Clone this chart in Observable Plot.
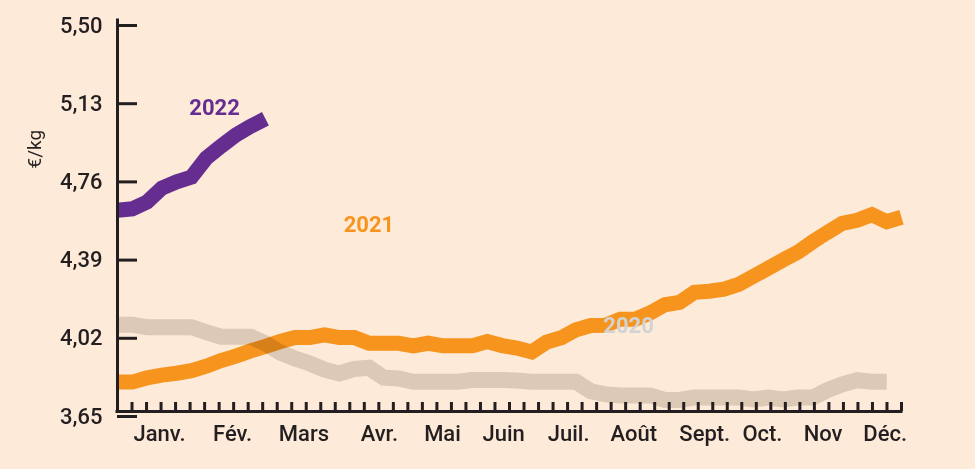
<!DOCTYPE html>
<html><head><meta charset="utf-8">
<script src="https://cdn.jsdelivr.net/npm/d3@7"></script>
<script src="https://cdn.jsdelivr.net/npm/@observablehq/plot@0.6"></script>
<style>
html,body{margin:0;padding:0;background:#fdead8;}
#chart svg{display:block;}
</style></head><body><div id="chart"></div>
<script>
// Month labels and where they sit along the weekly axis (week index units)
const months = ["Janv.","Fév.","Mars","Avr.","Mai","Juin","Juil.","Août","Sept.","Oct.","Nov","Déc."];
const monthPos = [2.84, 7.78, 12.6, 17.7, 21.97, 26.1, 30.5, 34.9, 39.7, 43.6, 47.7, 51.9];
// Y tick values (€/kg)
const yTicks = [3.65, 4.02, 4.39, 4.76, 5.13, 5.50];
// number of small weekly tick marks along the x axis
const weekTickCount = 54;

// Weekly prices, €/kg
const prices2020 = [4.061, 4.061, 4.049, 4.049, 4.049, 4.049, 4.025, 4.004, 4.004, 4.004,
  3.972, 3.929, 3.901, 3.877, 3.848, 3.830, 3.851, 3.857, 3.810, 3.806,
  3.791, 3.791, 3.791, 3.791, 3.799, 3.799, 3.799, 3.797, 3.791, 3.791,
  3.791, 3.791, 3.746, 3.731, 3.726, 3.726, 3.726, 3.705, 3.705, 3.716,
  3.716, 3.716, 3.716, 3.707, 3.716, 3.707, 3.716, 3.716, 3.751, 3.779,
  3.798, 3.791, 3.791];
const prices2021 = [3.789, 3.789, 3.809, 3.822, 3.831, 3.843, 3.864, 3.891, 3.912, 3.937,
  3.958, 3.981, 4.000, 4.000, 4.013, 4.000, 4.000, 3.973, 3.973, 3.973,
  3.961, 3.973, 3.961, 3.961, 3.961, 3.981, 3.962, 3.950, 3.932, 3.978,
  3.999, 4.037, 4.057, 4.058, 4.087, 4.087, 4.116, 4.155, 4.166, 4.214,
  4.219, 4.229, 4.252, 4.290, 4.328, 4.367, 4.404, 4.453, 4.498, 4.540,
  4.555, 4.581, 4.548, 4.569];
const prices2022 = [4.602, 4.609, 4.641, 4.707, 4.737, 4.759, 4.849, 4.905, 4.958, 4.999, 5.035];

const years = ["2020", "2021", "2022"];

// --- build tables ---
const toRows = (arr) => arr.map((v, i) => ({week: i, price: v}));
const d2020 = toRows(prices2020), d2021 = toRows(prices2021), d2022 = toRows(prices2022);
const lastWeek = prices2021.length - 1;
const weekTicks = d3.range(1, weekTickCount + 1).map(k => k * lastWeek / weekTickCount);

const INK = "#231f20", ORANGE = "#f7941d", PURPLE = "#662d91", GREY = "#dedcd8", GREY_TXT = "#d1d3d4";
const lineOpts = {x: "week", y: "price", strokeWidth: 15, strokeLinejoin: "miter", strokeMiterlimit: 10, strokeLinecap: "butt"};

const chart = Plot.plot({
  width: 975, height: 469,
  marginTop: 20, marginBottom: 58, marginLeft: 117, marginRight: 74,
  style: {background: "#fdead8", fontFamily: "Roboto, 'DejaVu Sans', sans-serif", color: INK},
  x: {domain: [0, lastWeek], axis: null},
  y: {domain: [yTicks[0], yTicks[yTicks.length - 1]], axis: null},
  marks: [
    Plot.line(d2021, {...lineOpts, stroke: ORANGE}),
    Plot.line(d2022, {...lineOpts, stroke: PURPLE}),
    Plot.line(d2020, {...lineOpts, stroke: GREY, strokeWidth: 16, mixBlendMode: "multiply"}),
    Plot.text([years[2]], {x: 6.56, y: 5.088, text: d => d, fill: PURPLE, fontSize: 22, fontWeight: "bold"}),
    Plot.text([years[1]], {x: 17.0, y: 4.535, text: d => d, fill: ORANGE, fontSize: 22, fontWeight: "bold"}),
    Plot.text([years[0]], {x: 34.55, y: 4.057, text: d => d, fill: GREY_TXT, fontSize: 22, fontWeight: "bold"}),
    // axis lines
    Plot.ruleX([0], {y1: yTicks[0], y2: yTicks[yTicks.length - 1], stroke: INK, strokeWidth: 3, strokeLinecap: "square"}),
    Plot.ruleY([yTicks[0]], {x1: 0, x2: lastWeek, stroke: INK, strokeWidth: 3, strokeLinecap: "square"}),
    // y ticks (inward) + labels
    Plot.axisY({ticks: yTicks, tickSize: -20, tickPadding: 35, tickFormat: d => d.toFixed(2).replace(".", ","),
      label: null, stroke: INK, strokeWidth: 3, fill: INK, fontSize: 22, fontWeight: 500, dy: 5}),
    // weekly tick marks on x
    Plot.axisX({ticks: weekTicks, tickSize: -9, label: null, fill: "none", stroke: INK, strokeWidth: 3}),
    // month labels
    Plot.axisX({ticks: monthPos, tickSize: 0, tickPadding: 14, label: null,
      tickFormat: d => months[monthPos.indexOf(d)], fill: INK, fontSize: 22, fontWeight: 500}),
    // y title
    Plot.text(["€/kg"], {frameAnchor: "left", dx: -83, y: 4.80, rotate: -90, fill: INK, fontSize: 19})
  ]
});
document.getElementById("chart").appendChild(chart);
</script>
</body></html>
